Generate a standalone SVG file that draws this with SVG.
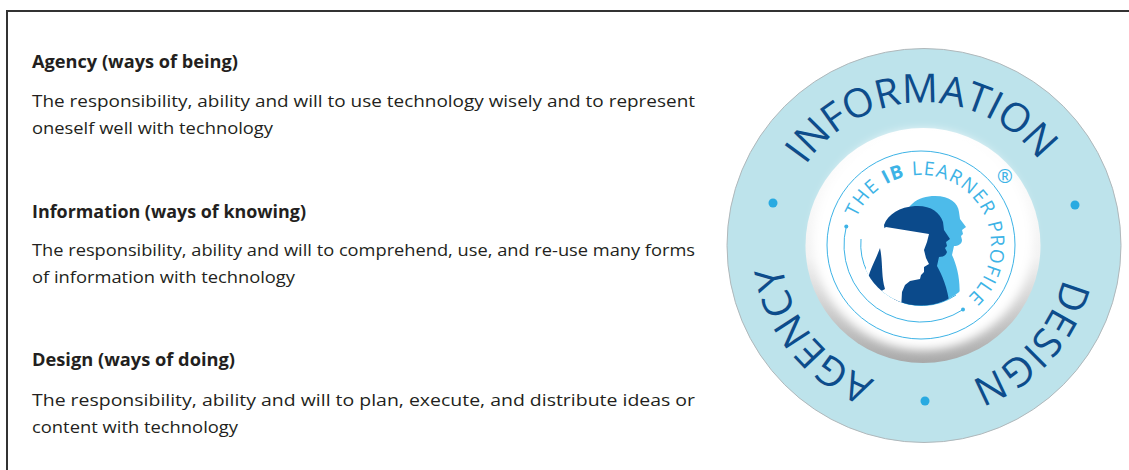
<svg xmlns="http://www.w3.org/2000/svg" width="1129" height="470" viewBox="0 0 1129 470">
<style>
.h{font-family:"Open Sans","Noto Sans",sans-serif;font-weight:bold;font-size:17.5px;fill:#231f20}
.b{font-family:"Open Sans","Noto Sans",sans-serif;font-size:17px;fill:#231f20}
.ring{font-family:"Open Sans","Noto Sans",sans-serif;font-size:40px;fill:#0d4c8b}
.logo{font-family:"Open Sans","Noto Sans",sans-serif;font-size:19px;fill:#3db3e6}
.thin{fill:none;stroke:#3db3e6;stroke-width:1}
.dot{fill:#29aae1}
</style>
<defs>
<linearGradient id="disc" x1="0" y1="0" x2="0" y2="1">
<stop offset="0" stop-color="#ffffff"/>
<stop offset="0.55" stop-color="#f2f2f2"/>
<stop offset="1" stop-color="#a9a9a9"/>
</linearGradient>
<filter id="soft" x="-20%" y="-20%" width="140%" height="140%">
<feGaussianBlur stdDeviation="5"/>
</filter>
<path id="ringPath" d="M 781,245.5 A 143 143 0 1 1 1067,245.5 A 143 143 0 1 1 781,245.5"/>
<path id="logoPath" d="M 851,245 A 70 70 0 1 1 991,245 A 70 70 0 1 1 851,245"/>
<clipPath id="inner"><circle cx="921" cy="245" r="60.5"/></clipPath>
</defs>
<rect width="1129" height="470" fill="#ffffff"/>
<g id="frame" fill="none" stroke="#333333" stroke-width="2">
<path d="M 7,470 L 7,11 L 1129,11"/>
</g>
<g id="agency-text">
<text class="h" x="32" y="68" textLength="206" lengthAdjust="spacingAndGlyphs">Agency (ways of being)</text>
<text class="b" x="32" y="107" textLength="663" lengthAdjust="spacingAndGlyphs">The responsibility, ability and will to use technology wisely and to represent</text>
<text class="b" x="32" y="134" textLength="241" lengthAdjust="spacingAndGlyphs">oneself well with technology</text>
</g>
<g id="information-text">
<text class="h" x="32" y="218" textLength="274" lengthAdjust="spacingAndGlyphs">Information (ways of knowing)</text>
<text class="b" x="32" y="256" textLength="663" lengthAdjust="spacingAndGlyphs">The responsibility, ability and will to comprehend, use, and re-use many forms</text>
<text class="b" x="32" y="283" textLength="263" lengthAdjust="spacingAndGlyphs">of information with technology</text>
</g>
<g id="design-text">
<text class="h" x="32" y="366" textLength="203" lengthAdjust="spacingAndGlyphs">Design (ways of doing)</text>
<text class="b" x="32" y="406" textLength="663" lengthAdjust="spacingAndGlyphs">The responsibility, ability and will to plan, execute, and distribute ideas or</text>
<text class="b" x="32" y="433" textLength="206" lengthAdjust="spacingAndGlyphs">content with technology</text>
</g>
<g id="ring">
<circle cx="924" cy="245.5" r="197" fill="#bde3eb" stroke="#b0b8bb" stroke-width="1"/>
<circle class="dot" cx="773" cy="203" r="4.5"/>
<circle class="dot" cx="1075" cy="205" r="4.5"/>
<circle class="dot" cx="925" cy="401" r="4.5"/>
<text class="ring" text-anchor="middle"><textPath href="#ringPath" startOffset="24.7%">INFORMATION</textPath></text>
<text class="ring" text-anchor="middle"><textPath href="#ringPath" startOffset="61.7%">DESIGN</textPath></text>
<text class="ring" text-anchor="middle"><textPath href="#ringPath" startOffset="89.2%">AGENCY</textPath></text>
</g>
<g id="logo">
<circle cx="923" cy="245.5" r="117.5" fill="url(#disc)"/>
<circle cx="923" cy="240" r="110" fill="#ffffff" filter="url(#soft)"/>
<circle class="thin" cx="921" cy="245" r="94"/>
<path class="thin" d="M 846.3,226.4 A 77 77 0 0 0 963,309.6"/>
<circle cx="846.3" cy="226.4" r="2" fill="#3db3e6"/>
<circle cx="963" cy="309.6" r="2" fill="#3db3e6"/>
<path class="thin" d="M 861,239 A 61 61 0 0 0 956,295"/>
<g clip-path="url(#inner)">
<path fill="#4dbbea" d="M 903,308 L 903,228 C 903,205 918,196 935,196 C 950,196 958,203 959,212 L 960,219 L 966,227 L 962,230 L 963,234 L 961,236 L 962,240 C 962,244 958,246 954,246 L 952,255 C 958,268 962,285 958,308 Z"/>
<path fill="#0b4a8b" d="M 884,225 C 888,214 900,207 915,206 C 930,205 940,212 943,222 L 944,230 L 950,239 L 946,242 L 947,246 L 945,248 L 947,252 C 946,256 942,257 939,257 L 937,266 C 942,275 948,288 950,308 L 895,308 Z"/>
<path fill="#ffffff" d="M 886,227 L 929,234 L 927,242 L 924,250 L 926,258 L 929,264 L 924,267 L 924,272 L 921,275 L 920,279 L 910,281 L 905,285 L 902,292 L 901,310 L 866,310 L 866,240 Z"/>
<path fill="#0b4a8b" d="M 880,248 C 875,262 868,272 868,282 C 872,291 880,293 885,289 C 881,276 883,262 880,248 Z"/>
</g>
<text class="logo" textLength="250" lengthAdjust="spacing"><textPath href="#logoPath" startOffset="28">THE <tspan font-weight="bold">IB</tspan> LEARNER PROFILE</textPath></text>
<text class="logo" x="1005" y="183" font-size="11" text-anchor="middle">®</text>
</g>
</svg>
